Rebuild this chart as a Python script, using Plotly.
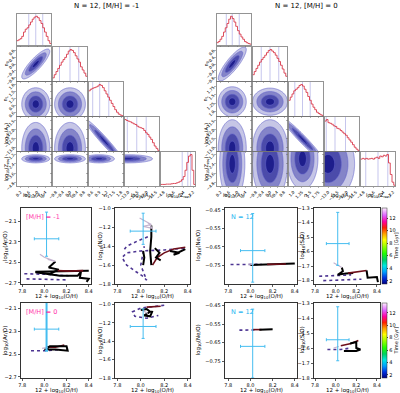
import numpy as np
import plotly.graph_objects as go

W, H = 400, 393

# ---------------- corner plot data ----------------
CORNER_LABELS = ["log<sub>10</sub>(A<sub>0</sub>)", "n<sub>0</sub>", "n<sub>1</sub>",
                 "log<sub>10</sub>(A<sub>1</sub>)", "log<sub>10</sub>(Z<sub>rec</sub>)"]
CORNER_TITLES = ["N = 12, [M/H] = -1", "N = 12, [M/H] = 0"]

LEFT_RANGES = [[0.0, 1.7], [-1.0, 1.0], [0.45, 1.9], [-13.2, -11.3], [-5.2, -0.9]]
LEFT_TICKS = [[0.2, 0.6, 1.0, 1.4], [-0.8, -0.4, 0.0, 0.4, 0.8], [0.6, 0.9, 1.2, 1.5, 1.8],
              [-13.0, -12.5, -12.0, -11.5], [-4.8, -3.6, -2.4, -1.2]]
RIGHT_RANGES = [[0.0, 1.7], [-1.0, 1.0], [0.85, 1.9], [-13.2, -11.3], [-5.2, -0.9]]
RIGHT_TICKS = [[0.2, 0.6, 1.0, 1.4], [-0.8, -0.4, 0.0, 0.4, 0.8], [1.0, 1.25, 1.5, 1.75],
               [-13.0, -12.5, -12.0, -11.5], [-4.8, -3.6, -2.4, -1.2]]

# marginal histograms (20 bins, relative heights)
HIST_LEFT = [
    [0.15, 0.18, 0.22, 0.30, 0.45, 0.55, 0.60, 0.70, 0.80, 0.90, 0.97, 1.00, 0.95, 0.85, 0.75, 0.60, 0.45, 0.30, 0.15, 0.05],
    [0.10, 0.20, 0.30, 0.40, 0.50, 0.60, 0.68, 0.75, 0.85, 0.95, 1.00, 0.97, 0.90, 0.80, 0.70, 0.60, 0.45, 0.35, 0.25, 0.15],
    [0.80, 0.85, 0.88, 0.90, 0.92, 0.95, 1.00, 0.97, 0.90, 0.80, 0.70, 0.60, 0.50, 0.40, 0.30, 0.20, 0.12, 0.06, 0.03, 0.01],
    [0.95, 0.92, 0.90, 0.88, 0.85, 0.82, 0.80, 0.75, 0.72, 0.70, 0.68, 0.62, 0.55, 0.50, 0.42, 0.35, 0.25, 0.15, 0.08, 0.02],
    [0.05, 0.05, 0.05, 0.06, 0.06, 0.06, 0.07, 0.08, 0.08, 0.10, 0.12, 0.15, 0.20, 0.30, 0.50, 0.75, 0.95, 1.00, 0.50, 0.05],
]
HIST_RIGHT = [
    [0.08, 0.12, 0.20, 0.30, 0.45, 0.60, 0.75, 0.90, 1.00, 0.92, 0.80, 0.65, 0.50, 0.38, 0.28, 0.20, 0.12, 0.08, 0.05, 0.03],
    [0.20, 0.30, 0.40, 0.50, 0.60, 0.68, 0.75, 0.82, 0.90, 0.97, 1.00, 0.95, 0.90, 0.82, 0.72, 0.62, 0.50, 0.38, 0.25, 0.15],
    [0.50, 0.60, 0.70, 0.80, 0.85, 0.90, 0.97, 1.00, 0.95, 0.85, 0.75, 0.62, 0.50, 0.38, 0.28, 0.20, 0.12, 0.08, 0.04, 0.02],
    [0.95, 1.00, 0.90, 0.88, 0.85, 0.80, 0.78, 0.72, 0.70, 0.65, 0.60, 0.55, 0.50, 0.42, 0.35, 0.28, 0.20, 0.12, 0.06, 0.02],
    [0.70, 0.72, 0.70, 0.72, 0.70, 0.71, 0.72, 0.70, 0.73, 0.75, 0.72, 0.78, 0.76, 0.80, 0.78, 0.82, 0.60, 0.30, 0.10, 0.02],
]
# quantile lines (fraction of axis range)
QUANT_LEFT = [[0.35, 0.55, 0.75], [0.20, 0.50, 0.75], [0.12, 0.32, 0.58], [0.08, 0.35, 0.62], [0.62, 0.78, 0.86]]
QUANT_RIGHT = [[0.28, 0.45, 0.65], [0.25, 0.50, 0.75], [0.18, 0.40, 0.62], [0.05, 0.30, 0.60], [0.15, 0.50, 0.78]]

# 2D posterior blobs (normalised panel coordinates): mx, my, sx, sy, rho
BLOBS_LEFT = {
    (1, 0): [0.55, 0.50, 0.20, 0.22, 0.85],
    (2, 0): [0.55, 0.35, 0.20, 0.24, 0.0],
    (2, 1): [0.50, 0.35, 0.22, 0.24, 0.0],
    (3, 0): [0.55, 0.08, 0.20, 0.38, 0.0],
    (3, 1): [0.50, 0.08, 0.22, 0.38, 0.0],
    (3, 2): [0.45, 0.30, 0.28, 0.32, -0.97],
    (4, 0): [0.55, 0.80, 0.20, 0.06, 0.0],
    (4, 1): [0.50, 0.80, 0.22, 0.06, 0.0],
    (4, 2): [0.30, 0.80, 0.22, 0.06, 0.0],
    (4, 3): [0.10, 0.80, 0.35, 0.06, 0.0],
}
BLOBS_RIGHT = {
    (1, 0): [0.45, 0.50, 0.20, 0.25, 0.85],
    (2, 0): [0.45, 0.42, 0.20, 0.22, 0.0],
    (2, 1): [0.50, 0.42, 0.25, 0.20, 0.0],
    (3, 0): [0.45, 0.08, 0.20, 0.42, 0.0],
    (3, 1): [0.50, 0.08, 0.25, 0.42, 0.0],
    (3, 2): [0.40, 0.35, 0.30, 0.32, -0.97],
    (4, 0): [0.45, 0.65, 0.18, 0.55, 0.0],
    (4, 1): [0.50, 0.65, 0.25, 0.55, 0.0],
    (4, 2): [0.40, 0.80, 0.22, 0.45, 0.0],
    (4, 3): [0.10, 0.65, 0.38, 0.55, 0.0],
}

# ---------------- abundance panels data ----------------
Y_LABELS = ["log<sub>10</sub>(Ar/O)", "log<sub>10</sub>(N/O)", "log<sub>10</sub>(Ne/O)", "log<sub>10</sub>(S/O)"]
X_LABEL = "12 + log<sub>10</sub>(O/H)"
CBAR_LABEL = "Time [Gyr]"
X_TICKS = [7.8, 8.0, 8.2, 8.4]
Y_TICKS = [[-2.7, -2.5, -2.3, -2.1], [-1.8, -1.6, -1.4, -1.2, -1.0],
           [-0.75, -0.65, -0.55, -0.45], [-1.8, -1.7, -1.6, -1.5, -1.4, -1.3]]
X_RANGES = [[7.79, 8.42], [7.78, 8.42], [7.77, 8.42], [7.79, 8.43]]
Y_RANGES = [[[-2.71, -1.97], [-1.8, -0.995], [-0.85, -0.44], [-1.823, -1.3]],
            [[-2.71, -2.05], [-1.8, -0.985], [-0.84, -0.437], [-1.8, -1.3]]]

OBS_X = 8.02
OBS_XERR = 0.11
OBS_Y = [[-2.27, -1.24, -0.67, -1.545], [-2.28, -1.24, -0.67, -1.545]]
OBS_YUP = [[0.26, 0.19, 0.20, 0.215], [0.25, 0.19, 0.20, 0.22]]
OBS_YDN = [[0.17, 0.14, 0.17, 0.15], [0.19, 0.13, 0.17, 0.14]]

TIME_RANGE = [1.5, 13.6]
TIME_TICKS = [2, 4, 6, 8, 10, 12]

# tracks: (colour key, x list, y list)
TRACKS = [
    [  # [M/H] = -1
        [("p", [7.82, 8.00, 8.22], [-2.61, -2.615, -2.63]),
         ("p", [7.84, 8.02, 8.20], [-2.66, -2.665, -2.67]),
         ("k", [8.10, 8.04, 8.13, 8.05, 7.92, 8.05, 8.14, 8.30, 8.33, 8.32, 8.40, 8.38],
          [-2.49, -2.55, -2.57, -2.61, -2.595, -2.62, -2.63, -2.63, -2.59, -2.65, -2.66, -2.69]),
         ("k", [7.92, 8.10, 8.40], [-2.59, -2.585, -2.58]),
         ("m", [8.12, 8.22, 8.35], [-2.58, -2.585, -2.58]),
         ("l", [7.96, 8.00, 8.05, 8.10, 8.03], [-2.42, -2.45, -2.47, -2.49, -2.47])],
        [("p", [8.37, 8.20, 8.00, 7.88, 7.84, 7.88, 7.96, 8.02, 8.05, 8.03, 8.00, 8.03],
          [-1.42, -1.44, -1.45, -1.47, -1.52, -1.60, -1.67, -1.72, -1.76, -1.70, -1.60, -1.40]),
         ("p", [8.06, 7.98, 7.88, 7.85], [-1.30, -1.34, -1.40, -1.45]),
         ("m", [8.10, 8.14, 8.20, 8.28, 8.38], [-1.60, -1.52, -1.47, -1.43, -1.41]),
         ("k", [8.09, 8.09, 8.08, 8.09], [-1.18, -1.30, -1.45, -1.60]),
         ("k", [8.02, 8.03, 8.02], [-1.45, -1.52, -1.60]),
         ("k", [8.12, 8.16, 8.13, 8.17], [-1.42, -1.47, -1.52, -1.55]),
         ("k", [8.25, 8.33, 8.28, 8.38], [-1.45, -1.47, -1.49, -1.43]),
         ("l", [7.99, 8.09, 8.02, 8.10, 8.06], [-1.10, -1.17, -1.19, -1.21, -1.15])],
        [("p", [7.82, 7.95, 8.10], [-0.745, -0.746, -0.744]),
         ("k", [8.00, 8.20, 8.40], [-0.748, -0.745, -0.740]),
         ("m", [8.15, 8.25, 8.32], [-0.744, -0.743, -0.742]),
         ("l", [7.98, 8.03], [-0.742, -0.745])],
        [("p", [7.84, 8.00, 8.15], [-1.77, -1.765, -1.76]),
         ("p", [7.88, 8.05, 8.25], [-1.80, -1.795, -1.79]),
         ("k", [8.06, 8.07, 8.02, 8.10, 8.17], [-1.71, -1.735, -1.76, -1.75, -1.747]),
         ("m", [8.12, 8.20, 8.30], [-1.748, -1.74, -1.73]),
         ("k", [8.30, 8.31, 8.40, 8.41], [-1.73, -1.78, -1.775, -1.81]),
         ("l", [7.98, 8.03, 8.06], [-1.677, -1.70, -1.71])],
    ],
    [  # [M/H] = 0
        [("p", [7.88, 8.00, 8.15], [-2.47, -2.47, -2.46]),
         ("m", [8.02, 8.10, 8.18], [-2.44, -2.44, -2.42]),
         ("k", [8.02, 8.05, 8.20, 8.21, 8.10, 8.00], [-2.45, -2.43, -2.43, -2.47, -2.46, -2.46]),
         ("l", [7.98, 8.03], [-2.45, -2.44])],
        [("p", [8.20, 8.00, 7.93, 7.95, 8.05, 8.15], [-1.01, -1.04, -1.08, -1.13, -1.15, -1.12]),
         ("m", [8.05, 8.17], [-1.03, -1.02]),
         ("k", [8.00, 8.05, 8.08, 8.03, 8.08, 8.10], [-1.06, -1.05, -1.08, -1.12, -1.13, -1.07]),
         ("l", [8.02, 8.06], [-1.07, -1.10])],
        [("p", [7.90, 7.98, 8.05], [-0.583, -0.582, -0.582]),
         ("m", [8.02, 8.10], [-0.580, -0.580]),
         ("k", [8.08, 8.15, 8.20], [-0.581, -0.580, -0.578])],
        [("p", [7.92, 8.05, 8.15], [-1.61, -1.61, -1.60]),
         ("m", [8.05, 8.15, 8.22], [-1.585, -1.57, -1.55]),
         ("k", [8.14, 8.20, 8.20, 8.24, 8.20, 8.08], [-1.57, -1.56, -1.60, -1.61, -1.62, -1.62]),
         ("l", [7.98, 8.03], [-1.60, -1.59])],
    ],
]
ROW_LABELS = ["[M/H] = -1", "[M/H] = 0"]
N_LABEL = "N = 12"

# ---------------- styling / geometry ----------------
TRACK_STYLE = {"k": ("#000000", 2.0, "solid"), "m": ("#6e0f1a", 1.6, "solid"),
               "p": ("#4d3592", 1.6, "dot"), "l": ("#c4b4cf", 1.2, "solid")}
HIST_COLOR = "#d93a4c"
QUANT_COLOR = "#a0a0e0"
ERR_COLOR = "#45bdf0"
# z = -radius (sigma); levels -2, -1.5, -1, -0.5
CONTOUR_SCALE = [[0.0, "rgba(255,255,255,0)"], [0.25, "#c6c6e6"], [0.5, "#8484c8"],
                 [0.75, "#4b4baa"], [1.0, "#1e1e8c"]]
NCAR = [[0.00, "#000080"], [0.08, "#0030e0"], [0.16, "#00a0ff"], [0.24, "#00e8e0"],
        [0.32, "#00d060"], [0.40, "#20ff00"], [0.50, "#a0ff00"], [0.58, "#ffff00"],
        [0.66, "#ffa000"], [0.74, "#ff2000"], [0.82, "#ff00a0"], [0.90, "#e060ff"],
        [1.00, "#fff0ff"]]

CORNER_COLS = [[16.5, 160.5], [216.5, 360.5]]
CORNER_W = 35
CORNER_ROWS = [[14, 45], [47, 81], [82, 116], [117, 151], [152, 186]]

PANEL_COLS = [[21, 91], [115, 190], [225, 297], [314, 380]]
PANEL_ROWS = [[208, 284], [303, 378]]

layout = dict(width=W, height=H, margin=dict(l=0, r=0, t=0, b=0, autoexpand=False),
              paper_bgcolor="white", plot_bgcolor="white", showlegend=False,
              font=dict(family="DejaVu Sans", color="black"))
traces = []
annotations = []
counter = [0]


def new_axes(x0, x1, y0, y1, xkw, ykw):
    counter[0] += 1
    n = counter[0]
    sfx = "" if n == 1 else str(n)
    layout["xaxis" + sfx] = dict(domain=[x0 / W, x1 / W], anchor="y" + sfx, **xkw)
    layout["yaxis" + sfx] = dict(domain=[1 - y1 / H, 1 - y0 / H], anchor="x" + sfx, **ykw)
    return "x" + sfx, "y" + sfx


def fmt(v):
    s = ("%g" % v)
    if "." not in s:
        s = s + ".0"
    return s.replace("-", "\u2212")


def ann(x, y, text, size, color="black", angle=0, xanchor="center", yanchor="middle"):
    annotations.append(dict(x=x / W, y=1 - y / H, xref="paper", yref="paper", text=text,
                            showarrow=False, font=dict(size=size, color=color),
                            textangle=angle, xanchor=xanchor, yanchor=yanchor))


corner_axis = dict(showgrid=False, zeroline=False, showline=True, mirror=True,
                   linecolor="#666", linewidth=0.7, ticks="outside", ticklen=1.5,
                   tickwidth=0.5, tickcolor="#666", tickfont=dict(size=4), tickangle=-45)

u = np.linspace(0, 1, 70)
UU, VV = np.meshgrid(u, u)

for c in range(2):
    ranges = LEFT_RANGES if c == 0 else RIGHT_RANGES
    ticks = LEFT_TICKS if c == 0 else RIGHT_TICKS
    hists = HIST_LEFT if c == 0 else HIST_RIGHT
    quants = QUANT_LEFT if c == 0 else QUANT_RIGHT
    blobs = BLOBS_LEFT if c == 0 else BLOBS_RIGHT
    x_start = CORNER_COLS[c][0]
    step = (CORNER_COLS[c][1] - CORNER_COLS[c][0]) / 4
    for i in range(5):
        for j in range(i + 1):
            x0 = x_start + j * step
            y0, y1 = CORNER_ROWS[i]
            xkw = dict(corner_axis, range=ranges[j], tickvals=ticks[j],
                       ticktext=[fmt(t) for t in ticks[j]], showticklabels=(i == 4))
            if i == j:
                hv = hists[i]
                ykw = dict(corner_axis, range=[0, max(hv) * 1.08], ticks="",
                           showticklabels=False)
            else:
                ykw = dict(corner_axis, range=ranges[i], tickvals=ticks[i],
                           ticktext=[fmt(t) for t in ticks[i]], showticklabels=(j == 0))
            xr, yr = new_axes(x0, x0 + CORNER_W, y0, y1, xkw, ykw)
            if i == j:
                lo, hi = ranges[i]
                edges = np.linspace(lo, hi, len(hv) + 1)
                for q in quants[i]:
                    qx = lo + q * (hi - lo)
                    traces.append(go.Scatter(x=[qx, qx], y=[0, max(hv) * 1.08], mode="lines",
                                             line=dict(color=QUANT_COLOR, width=0.6),
                                             xaxis=xr, yaxis=yr, hoverinfo="skip"))
                traces.append(go.Scatter(x=list(edges), y=list(hv) + [hv[-1]], mode="lines",
                                         line=dict(color=HIST_COLOR, width=0.9, shape="hv"),
                                         xaxis=xr, yaxis=yr))
            else:
                mx, my, sx, sy, rho = blobs[(i, j)]
                dx = (UU - mx) / sx
                dy = (VV - my) / sy
                qd = (dx * dx - 2 * rho * dx * dy + dy * dy) / (1 - rho ** 2)
                d = np.exp(-0.5 * qd)
                r = np.sqrt(-2 * np.log(np.clip(d / d.max(), 1e-12, 1)))
                xl, xh = ranges[j]
                yl, yh = ranges[i]
                traces.append(go.Contour(
                    x=xl + u * (xh - xl), y=yl + u * (yh - yl), z=-r,
                    contours=dict(start=-2.0, end=-0.5, size=0.5, coloring="fill", showlines=True),
                    colorscale=CONTOUR_SCALE, showscale=False,
                    line=dict(color="#6464cc", width=0.6),
                    xaxis=xr, yaxis=yr, hoverinfo="skip"))
    # titles
    cx = (CORNER_COLS[c][0] + CORNER_COLS[c][1] + CORNER_W) / 2
    ann(cx, 6, CORNER_TITLES[c], 7)
    for j in range(5):
        ann(x_start + j * step + CORNER_W / 2, 195, CORNER_LABELS[j], 5)
    for i in range(1, 5):
        y0, y1 = CORNER_ROWS[i]
        ann(x_start - 11, (y0 + y1) / 2, CORNER_LABELS[i], 5, angle=-90)

# ---------------- abundance panels ----------------
panel_axis = dict(showgrid=False, zeroline=False, showline=True, mirror=True,
                  linecolor="#333", linewidth=1.3, ticks="outside", ticklen=2,
                  tickwidth=0.8, tickcolor="#333", tickfont=dict(size=5))
YLAB_X = [5, 100, 198, 302]

for r in range(2):
    y0, y1 = PANEL_ROWS[r]
    for p in range(4):
        x0, x1 = PANEL_COLS[p]
        xkw = dict(panel_axis, range=X_RANGES[p], tickvals=X_TICKS,
                   ticktext=[fmt(t) for t in X_TICKS])
        ykw = dict(panel_axis, range=Y_RANGES[r][p], tickvals=Y_TICKS[p],
                   ticktext=[fmt(t) for t in Y_TICKS[p]])
        xr, yr = new_axes(x0, x1, y0, y1, xkw, ykw)
        for key, xs, ys in TRACKS[r][p]:
            col, lw, dash = TRACK_STYLE[key]
            traces.append(go.Scatter(x=xs, y=ys, mode="lines",
                                     line=dict(color=col, width=lw, dash=dash),
                                     xaxis=xr, yaxis=yr))
        traces.append(go.Scatter(
            x=[OBS_X], y=[OBS_Y[r][p]], mode="markers", marker=dict(size=0.1, color=ERR_COLOR),
            error_x=dict(type="data", array=[OBS_XERR], color=ERR_COLOR, thickness=1, width=1.5),
            error_y=dict(type="data", symmetric=False, array=[OBS_YUP[r][p]],
                         arrayminus=[OBS_YDN[r][p]], color=ERR_COLOR,
                         thickness=2 if (r == 1 and p == 0) else 1, width=1.5),
            xaxis=xr, yaxis=yr))
        if p == 3:
            traces.append(go.Scatter(
                x=[OBS_X, OBS_X], y=[OBS_Y[r][p], OBS_Y[r][p]], mode="markers",
                marker=dict(size=0.1, color=TIME_RANGE, colorscale=NCAR,
                            cmin=TIME_RANGE[0], cmax=TIME_RANGE[1], showscale=True,
                            colorbar=dict(x=381.5 / W, xanchor="left", y=1 - (y0 + y1) / 2 / H,
                                          yanchor="middle", len=(y1 - y0) / H, lenmode="fraction",
                                          thickness=4.5, thicknessmode="pixels", xpad=0, ypad=0,
                                          outlinewidth=0.5, outlinecolor="#333",
                                          tickvals=TIME_TICKS, ticks="outside", ticklen=1.5,
                                          tickfont=dict(size=5))),
                xaxis=xr, yaxis=yr, hoverinfo="skip"))
            ann(396, (y0 + y1) / 2, CBAR_LABEL, 5, angle=-90)
        ann((x0 + x1) / 2, y1 + 12.5, X_LABEL, 5.5)
        ann(YLAB_X[p], (y0 + y1) / 2, Y_LABELS[p], 5.5, angle=-90)
        if p == 0:
            ann(x0 + 3, y0 + 9, ROW_LABELS[r], 6.5, color="#ff33aa", xanchor="left")
        if p == 2:
            ann(x0 + 4, y0 + 9, N_LABEL, 6.5, color="#22b4f0", xanchor="left")

layout["annotations"] = annotations
fig = go.Figure(data=traces, layout=layout)
fig.write_html("out.html", config={"displayModeBar": False, "staticPlot": True},
               post_script="document.body.style.margin='0px';")
